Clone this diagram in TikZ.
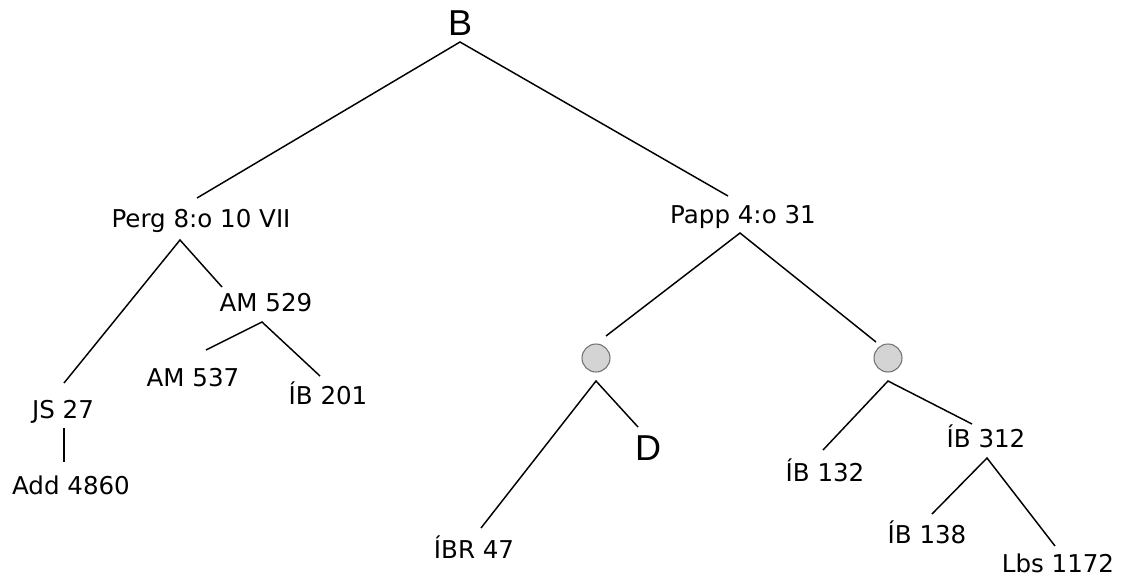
\documentclass[tikz,border=0pt]{standalone}
\usepackage{fontspec}
\setmainfont{DejaVu Sans}
\newfontfamily\bigfont{Liberation Sans}
\usetikzlibrary{calc}
\begin{document}
\begin{tikzpicture}[x=0.75pt,y=-0.75pt,
  lbl/.style={anchor=base,inner sep=0pt,font=\fontsize{18.4pt}{22pt}\selectfont},
  big/.style={anchor=base,inner sep=0pt,font=\bigfont\fontsize{27pt}{32pt}\selectfont},
  hub/.style={circle,draw=black!55,fill=black!17,line width=0.8pt,minimum size=21pt,inner sep=0pt},
  edge/.style={line width=1.1pt}]
\useasboundingbox (0,0) rectangle (1127,576);

% labels and hubs
\node[big] (b) at (460,35) {B};
\node[lbl] (perg) at (201,227) {Perg 8:o 10 VII};
\node[lbl] (papp) at (743,223) {Papp 4:o 31};
\node[lbl] (am529) at (266,311) {AM 529};
\node[lbl] (am537) at (193,386) {AM 537};
\node[lbl] (ib201) at (328,404) {ÍB 201};
\node[lbl] (js) at (63,418) {JS 27};
\node[lbl] (add) at (71,494) {Add 4860};
\node[hub] (lc) at (596,358) {};
\node[hub] (rc) at (888,358) {};
\node[big] (d) at (648,460) {D};
\node[lbl] (ibr) at (474,558) {ÍBR 47};
\node[lbl] (ib132) at (825,481) {ÍB 132};
\node[lbl] (ib312) at (986,447) {ÍB 312};
\node[lbl] (ib138) at (927,543) {ÍB 138};
\node[lbl] (lbs) at (1058,572) {Lbs 1172};

% branches
\draw[edge] ($(perg.base)+(-4,-29)$) -- ($(b.base)+(0,7)$) -- ($(papp.base)+(-15,-27)$);
\draw[edge] ($(js.base)+(1,-35)$) -- ($(perg.base)+(-21,13)$) -- ($(am529.base)+(-44,-24)$);
\draw[edge] ($(am537.base)+(13,-36)$) -- ($(am529.base)+(-4,11)$) -- ($(ib201.base)+(-8,-28)$);
\draw[edge] ($(js.base)+(1,10)$) -- ($(add.base)+(-7,-32)$);
\draw[edge] ($(lc.center)+(10,-22)$) -- ($(papp.base)+(-3,10)$) -- ($(rc.center)+(-12,-16)$);
\draw[edge] ($(ibr.base)+(7,-30)$) -- ($(lc.center)+(0,23)$) -- ($(d.base)+(-10,-33)$);
\draw[edge] ($(ib132.base)+(-2,-31)$) -- ($(rc.center)+(0,23)$) -- ($(ib312.base)+(-14,-23)$);
\draw[edge] ($(ib138.base)+(5,-29)$) -- ($(ib312.base)+(1,11)$) -- ($(lbs.base)+(-3,-26)$);
\end{tikzpicture}
\end{document}
